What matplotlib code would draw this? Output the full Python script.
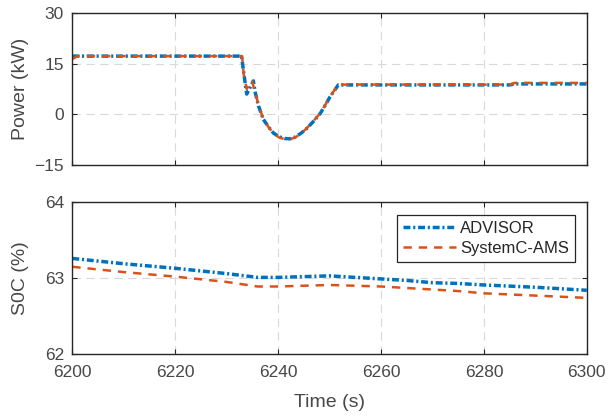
import matplotlib
matplotlib.use("Agg")
import matplotlib.pyplot as plt

# power trace (kW)
t_adv_p = [6200, 6232.9, 6233.3, 6233.9, 6234.4, 6235.2, 6235.5, 6236.2, 6237.1,
           6238.2, 6239.1, 6240.2, 6241.3, 6242.3, 6243.3, 6244.5, 6245.6, 6246.9,
           6248.2, 6249.2, 6250.1, 6251.7, 6285, 6286, 6300]
p_adv = [17.2, 17.2, 12.5, 6.0, 7.5, 9.9, 6.8, 2.5, -1.4,
         -3.8, -5.5, -6.6, -7.1, -7.2, -6.7, -5.5, -4.1, -2.0,
         0.3, 2.8, 5.2, 8.7, 8.7, 9.0, 9.0]
t_sys_p = [6200, 6201, 6233.0, 6233.3, 6233.9, 6234.9, 6235.6, 6236.2, 6237.1,
           6238.2, 6239.1, 6240.2, 6241.3, 6242.3, 6243.3, 6244.5, 6245.6, 6246.9,
           6248.2, 6249.2, 6250.1, 6251.7, 6285, 6286, 6300]
p_sys = [16.3, 17.2, 17.2, 12.0, 7.5, 10.0, 6.2, 2.8, -1.2,
         -3.9, -5.6, -6.8, -7.3, -7.3, -6.8, -5.6, -4.0, -1.9,
         0.4, 2.9, 5.3, 8.8, 8.8, 9.3, 9.3]

# state of charge (%)
t_soc = [6200, 6210, 6220, 6230, 6236, 6240, 6245, 6250, 6255, 6260, 6265,
         6270, 6275, 6280, 6290, 6300]
soc_adv = [63.26, 63.19, 63.13, 63.06, 63.01, 63.01, 63.02, 63.03, 63.01, 62.99,
           62.97, 62.94, 62.93, 62.91, 62.88, 62.84]
soc_sys = [63.15, 63.08, 63.02, 62.95, 62.89, 62.89, 62.90, 62.91, 62.90, 62.89,
           62.87, 62.85, 62.83, 62.80, 62.77, 62.74]

blue = "#0072BD"
orange = "#D95319"
axcol = "#262626"

plt.rcParams["font.family"] = ["Liberation Sans", "DejaVu Sans"]
plt.rcParams["lines.scale_dashes"] = False

fig = plt.figure(figsize=(6.1, 4.19), dpi=100)
W, H = 610, 419
ax1 = fig.add_axes([72.3 / W, 1 - 165.3 / H, 514.5 / W, 152.6 / H])
ax2 = fig.add_axes([72.3 / W, 1 - 354 / H, 514.5 / W, 151.7 / H])

for ax in (ax1, ax2):
    ax.grid(True, color="#d9d9d9", linestyle=(0, (6, 4)), linewidth=0.8)
    ax.set_axisbelow(True)
    ax.set_xlim(6200, 6300)
    ax.set_xticks([6200, 6220, 6240, 6260, 6280, 6300])
    ax.tick_params(direction="in", top=True, right=True, length=3.5,
                   width=0.8, color=axcol, labelsize=12.5, labelcolor="#484848")
    ax.tick_params(axis="x", pad=8)
    ax.tick_params(axis="y", pad=6)
    for s in ax.spines.values():
        s.set_color(axcol)
        s.set_linewidth(1.0)

ax1.plot(t_adv_p, p_adv, color=blue, lw=2.5, dashes=(5, 2, 1.5, 2), label="ADVISOR")
ax1.plot(t_sys_p, p_sys, color=orange, lw=1.8, dashes=(6, 5), label="SystemC-AMS")
ax1.set_ylim(-15, 30)
ax1.set_yticks([-15, 0, 15, 30])
ax1.set_xticklabels([])
ax1.set_ylabel("Power (kW)", fontsize=14, color="#484848")

ax2.plot(t_soc, soc_adv, color=blue, lw=2.5, dashes=(5, 2, 1.5, 2), label="ADVISOR")
ax2.plot(t_soc, soc_sys, color=orange, lw=1.8, dashes=(6, 5), label="SystemC-AMS")
ax2.set_ylim(62, 64)
ax2.set_yticks([62, 63, 64])
ax2.set_ylabel("S0C (%)", fontsize=14, color="#484848")
ax2.set_xlabel("Time (s)", fontsize=14, color="#484848", labelpad=10)

leg = ax2.legend(loc="upper right", bbox_to_anchor=(0.977, 0.914), borderaxespad=0,
                 fontsize=12, handlelength=3.2, handletextpad=0.25, fancybox=False,
                 framealpha=1, edgecolor=axcol, borderpad=0.35, labelspacing=0.3)
leg.get_frame().set_linewidth(0.9)
for txt in leg.get_texts():
    txt.set_color("#262626")

ax1.yaxis.set_label_coords(-0.085, 0.5)
ax2.yaxis.set_label_coords(-0.085, 0.5)

fig.savefig("out.png", dpi=100)
